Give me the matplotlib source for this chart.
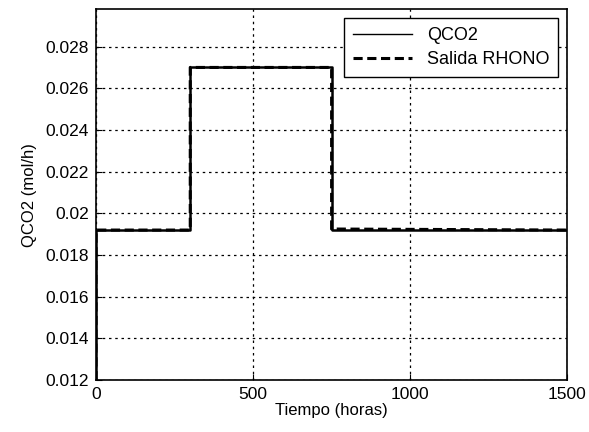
import numpy as np
import matplotlib.pyplot as plt

plt.rcParams['font.family'] = ['Liberation Sans', 'DejaVu Sans']

# step input (QCO2) and network output (Salida RHONO)
tiempo = [0, 0, 300, 300, 750, 750, 1500]
qco2 = [0.012, 0.0192, 0.0192, 0.0270, 0.0270, 0.0192, 0.0192]
salida_rhono = [0.012, 0.0192, 0.0192, 0.0270, 0.0270, 0.01925, 0.0192]

xticks = [0, 500, 1000, 1500]
yticks = [0.012, 0.014, 0.016, 0.018, 0.02, 0.022, 0.024, 0.026, 0.028]
ytick_labels = ['0.012', '0.014', '0.016', '0.018', '0.02', '0.022', '0.024', '0.026', '0.028']

def main():
    fig = plt.figure(figsize=(5.89, 4.32), dpi=100)
    ax = fig.add_axes([0.163, 0.120, 0.800, 0.859])

    ax.plot(tiempo, qco2, color='black', linewidth=1.8, label='QCO2')
    ax.plot(tiempo, salida_rhono, color='black', linewidth=2.2, linestyle='--',
            dashes=(3, 1.5), label='Salida RHONO')

    ax.set_xlim(0, 1500)
    ax.set_ylim(0.012, 0.0298)
    ax.set_xticks(xticks)
    ax.set_yticks(yticks)
    ax.set_yticklabels(ytick_labels)
    ax.tick_params(direction='in', labelsize=12.5, length=4, color='black', pad=5)
    ax.grid(True, color='black', linestyle=(0, (2, 3)), linewidth=0.9)
    for s in ax.spines.values():
        s.set_linewidth(1.2)

    ax.set_xlabel('Tiempo (horas)', fontsize=12, labelpad=1)
    ax.set_ylabel('QCO2 (mol/h)', fontsize=12, labelpad=6)

    leg = ax.legend(loc='upper right', fontsize=13, fancybox=False, framealpha=1,
                    edgecolor='black', borderaxespad=0.5, handlelength=3.3,
                    labelspacing=0.4, borderpad=0.5)
    leg.legend_handles[0].set_linewidth(1.0)
    leg.get_frame().set_linewidth(1.0)

    fig.savefig('out.png', dpi=100)

if __name__ == '__main__':
    main()
